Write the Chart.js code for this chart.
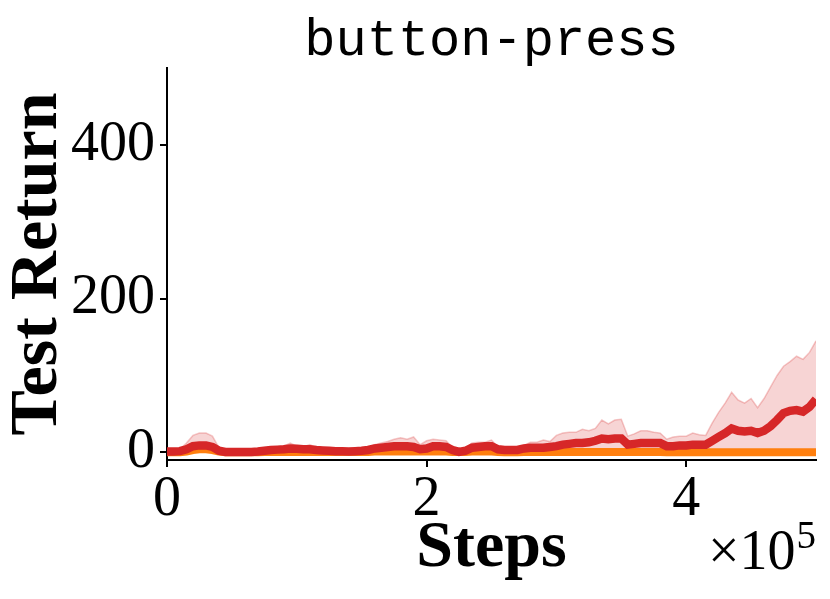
<!DOCTYPE html>
<html>
<head>
<meta charset="utf-8">
<script src="https://cdn.jsdelivr.net/npm/chart.js@4.4.1/dist/chart.umd.min.js"></script>
<style>
  html, body { margin: 0; padding: 0; background: #fff; }
  #wrap { width: 830px; height: 599px; }
</style>
</head>
<body>
<div id="wrap"><canvas id="chart" width="830" height="599"></canvas></div>
<script>
// steps in units of 1e5
var steps = [0, 0.05, 0.1, 0.15, 0.2, 0.25, 0.3, 0.35, 0.4, 0.45,
  0.5, 0.55, 0.6, 0.65, 0.7, 0.75, 0.8, 0.85, 0.9, 0.95,
  1, 1.05, 1.1, 1.15, 1.2, 1.25, 1.3, 1.35, 1.4, 1.45,
  1.5, 1.55, 1.6, 1.65, 1.7, 1.75, 1.8, 1.85, 1.9, 1.95,
  2, 2.05, 2.1, 2.15, 2.2, 2.25, 2.3, 2.35, 2.4, 2.45,
  2.5, 2.55, 2.6, 2.65, 2.7, 2.75, 2.8, 2.85, 2.9, 2.95,
  3, 3.05, 3.1, 3.15, 3.2, 3.25, 3.3, 3.35, 3.4, 3.45,
  3.5, 3.55, 3.6, 3.65, 3.7, 3.75, 3.8, 3.85, 3.9, 3.95,
  4, 4.05, 4.1, 4.15, 4.2, 4.25, 4.3, 4.35, 4.4, 4.45,
  4.5, 4.55, 4.6, 4.65, 4.7, 4.75, 4.8, 4.85, 4.9, 4.95, 5];

var redMean = [1, 1, 1.5, 4, 8, 9, 9, 7, 2, 0.5,
  0.5, 0.5, 0.5, 0.5, 1, 2, 3, 3.5, 4, 5,
  4.5, 4, 4, 3, 2.5, 2, 1.5, 1.5, 1, 1.5,
  2, 3, 5, 6, 7, 8, 8, 8, 7, 4,
  5, 8, 8, 7, 3, 0.5, 2, 6, 7, 8,
  8, 4, 3, 3, 3, 5, 6, 6, 6, 7,
  8, 10, 11, 12, 12, 13, 15, 18, 17, 18,
  18, 10, 11, 12, 12, 12, 12, 8, 8, 9,
  9, 10, 10, 10, 15, 20, 25, 31, 28, 27,
  28, 25, 28, 34, 42, 51, 54, 55, 53, 59, 69];

var redUpper = [2, 2, 4, 12, 22, 25, 25, 21, 6, 2,
  2, 2, 2, 2, 3, 4, 5, 6, 8, 12,
  8, 7, 10, 6, 5, 4, 3, 3, 3, 3,
  4, 6, 10, 12, 14, 17, 19, 17, 20, 10,
  15, 17, 16, 15, 6, 3, 5, 12, 13, 13,
  16, 7, 5, 5, 6, 9, 13, 13, 16, 14,
  22, 25, 26, 26, 30, 28, 31, 42, 37, 42,
  43, 21, 24, 28, 28, 26, 25, 17, 20, 21,
  21, 25, 23, 22, 38, 52, 64, 78, 68, 64,
  70, 58, 70, 85, 100, 112, 118, 125, 121, 130, 145];

var orangeMean = [0, 0, 0, 1, 3, 4, 4, 3, 1, 0,
  0, 0, 0, 0, 0, 0.5, 0.5, 0.5, 0.5, 0.5,
  0.5, 0.5, 0.5, 0.5, 0.5, 0.5, 0.5, 0.5, 0.5, 0.5,
  0.5, 0.5, 1, 1, 1, 1, 1, 1, 1, 1,
  1, 1, 1, 1, 0.5, 0.5, 0.5, 1, 1, 1,
  1, 0.5, 0, 0, 0, 0.5, 0.5, 0.5, 0.5, 0.5,
  0.5, 0.5, 0.5, 0.5, 0.5, 0.5, 0.5, 0.5, 0.5, 0.5,
  0.5, 0.5, 0.5, 0.5, 0.5, 0.5, 0.5, 0, 0, 0,
  0, 0, 0, 0, 0, 0, 0, 0, 0, 0,
  0, 0, 0, 0, 0, 0, 0, 0, 0, 0, 0];

var xTicks = [0, 2, 4];
var yTicks = [0, 200, 400];

var RED = '#d62728';
var ORANGE = '#ff7f0e';

function pts(ys) {
  return steps.map(function(s, i) { return { x: s, y: ys[i] }; });
}

var extraText = {
  id: 'extraText',
  afterDraw: function(chart) {
    var ctx = chart.ctx;
    var area = chart.chartArea;
    ctx.save();
    ctx.fillStyle = '#000';
    // title
    ctx.font = '52px "Liberation Mono", monospace';
    ctx.textAlign = 'center';
    ctx.textBaseline = 'alphabetic';
    ctx.fillText('button-press', (area.left + area.right) / 2, 55);
    // x offset text
    ctx.textAlign = 'right';
    ctx.font = '39px "Liberation Serif", serif';
    var w5 = ctx.measureText('5').width;
    ctx.fillText('5', area.right, 548);
    ctx.font = '56px "Liberation Serif", serif';
    ctx.fillText('\u00d710', area.right - w5 - 1, 569);
    ctx.restore();
  }
};

new Chart(document.getElementById('chart'), {
  type: 'line',
  data: {
    datasets: [{
        data: pts(redMean),
        borderColor: RED,
        borderWidth: 8.5,
        borderCapStyle: 'butt',
        pointRadius: 0,
        fill: false,
        tension: 0
      }, {
        data: pts(orangeMean),
        borderColor: ORANGE,
        borderWidth: 8,
        borderCapStyle: 'butt',
        pointRadius: 0,
        fill: false,
        tension: 0
      }, {
        data: pts(redUpper),
        borderColor: 'rgba(214,39,40,0.25)',
        backgroundColor: 'rgba(214,39,40,0.2)',
        borderWidth: 1.5,
        pointRadius: 0,
        fill: 'origin',
        tension: 0
      }]
  },
  options: {
    responsive: false,
    animation: false,
    devicePixelRatio: 1,
    layout: {
      padding: { top: 68, left: 0, right: 14, bottom: 0 }
    },
    plugins: {
      legend: { display: false },
      tooltip: { enabled: false },
      title: { display: false }
    },
    scales: {
      x: {
        type: 'linear',
        min: 0,
        max: 5,
        afterBuildTicks: function(s) { s.ticks = xTicks.map(function(v) { return { value: v }; }); },
        afterFit: function(s) { s.height = 139; },
        grid: { drawOnChartArea: false, drawTicks: true, tickLength: 7, color: '#000', lineWidth: 2 },
        border: { display: true, color: '#000', width: 2 },
        ticks: {
          color: '#000',
          padding: 0,
          maxRotation: 0,
          font: { family: '"Liberation Serif", serif', size: 56 },
          callback: function(v) { return String(v); }
        },
        title: {
          display: true,
          text: 'Steps',
          color: '#000',
          font: { family: '"Liberation Serif", serif', size: 66, weight: 'bold', lineHeight: 1 },
          padding: { top: 0, bottom: 17 }
        }
      },
      y: {
        type: 'linear',
        min: -10,
        max: 500,
        afterBuildTicks: function(s) { s.ticks = yTicks.map(function(v) { return { value: v }; }); },
        afterFit: function(s) { s.width = 167; },
        grid: { drawOnChartArea: false, drawTicks: true, tickLength: 7, color: '#000', lineWidth: 2 },
        border: { display: true, color: '#000', width: 2 },
        ticks: {
          color: '#000',
          padding: 5,
          font: { family: '"Liberation Serif", serif', size: 56 },
          callback: function(v) { return String(v); }
        },
        title: {
          display: true,
          text: 'Test Return',
          color: '#000',
          font: { family: '"Liberation Serif", serif', size: 68, weight: 'bold', lineHeight: 1 },
          padding: { top: 4, bottom: 0 }
        }
      }
    }
  },
  plugins: [extraText]
});
</script>
</body>
</html>
